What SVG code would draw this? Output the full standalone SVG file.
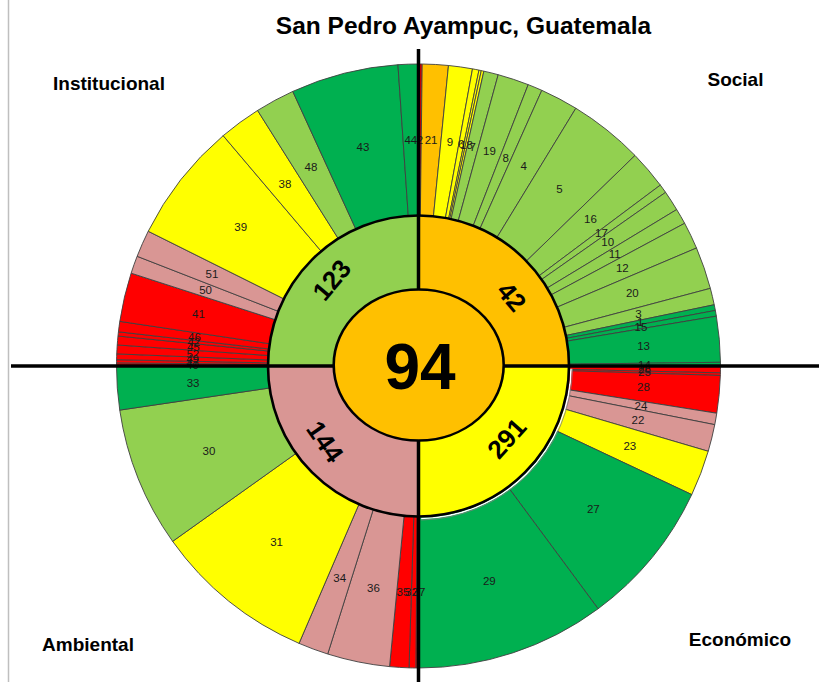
<svg xmlns="http://www.w3.org/2000/svg" width="819" height="682" viewBox="0 0 819 682">
<style>
.dg{fill:#00B050}.lg{fill:#92D050}.y{fill:#FFFF00}.o{fill:#FFC000}.r{fill:#FF0000}.p{fill:#D99694}
.sl path{stroke:#404040;stroke-width:0.9;stroke-linejoin:round}
.lb{font-family:"Liberation Sans",Arial,sans-serif;font-size:11.5px;fill:#1a1a1a;text-anchor:middle}
.q{font-family:"Liberation Sans",Arial,sans-serif;font-weight:bold;font-size:19px;fill:#000;text-anchor:middle}
.mid{font-family:"Liberation Sans",Arial,sans-serif;font-weight:bold;font-size:26px;fill:#000;text-anchor:middle}
.ax{stroke:#000;stroke-width:3.5}
</style>
<rect width="819" height="682" fill="#fff"/>
<line x1="8.5" y1="0" x2="8.5" y2="682" stroke="#bfbfbf" stroke-width="1.5"/>
<text x="463.5" y="34" font-family="Liberation Sans, Arial, sans-serif" font-weight="bold" font-size="24.5" text-anchor="middle">San Pedro Ayampuc, Guatemala</text>
<g id="outer-ring" class="sl">
<g id="social-slices">
<path class="r" d="M418.5,366L418.5,64A302,302 0 0 1 422.19,64.02Z"/>
<path class="o" d="M418.5,366L422.19,64.02A302,302 0 0 1 448.49,65.49Z"/>
<path class="y" d="M418.5,366L448.49,65.49A302,302 0 0 1 472.5,68.87Z"/>
<path class="y" d="M418.5,366L472.5,68.87A302,302 0 0 1 478.97,70.12Z"/>
<path class="y" d="M418.5,366L478.97,70.12A302,302 0 0 1 481.29,70.6Z"/>
<path class="y" d="M418.5,366L481.29,70.6A302,302 0 0 1 483.86,71.16Z"/>
<path class="lg" d="M418.5,366L483.86,71.16A302,302 0 0 1 498.19,74.7Z"/>
<path class="lg" d="M418.5,366L498.19,74.7A302,302 0 0 1 528.2,84.63Z"/>
<path class="lg" d="M418.5,366L528.2,84.63A302,302 0 0 1 541.82,90.33Z"/>
<path class="lg" d="M418.5,366L541.82,90.33A302,302 0 0 1 575.85,108.23Z"/>
<path class="lg" d="M418.5,366L575.85,108.23A302,302 0 0 1 635.01,155.45Z"/>
<path class="lg" d="M418.5,366L635.01,155.45A302,302 0 0 1 660.32,185.1Z"/>
<path class="lg" d="M418.5,366L660.32,185.1A302,302 0 0 1 665.58,192.35Z"/>
<path class="lg" d="M418.5,366L665.58,192.35A302,302 0 0 1 676.68,209.56Z"/>
<path class="lg" d="M418.5,366L676.68,209.56A302,302 0 0 1 684.65,223.29Z"/>
<path class="lg" d="M418.5,366L684.65,223.29A302,302 0 0 1 696.49,248Z"/>
<path class="lg" d="M418.5,366L696.49,248A302,302 0 0 1 710.35,288.35Z"/>
<path class="lg" d="M418.5,366L710.35,288.35A302,302 0 0 1 714.22,304.76Z"/>
<path class="dg" d="M418.5,366L714.22,304.76A302,302 0 0 1 715.35,310.45Z"/>
<path class="dg" d="M418.5,366L715.35,310.45A302,302 0 0 1 716.36,316.16Z"/>
<path class="dg" d="M418.5,366L716.36,316.16A302,302 0 0 1 720.48,362.31Z"/>
<path class="dg" d="M418.5,366L720.48,362.31A302,302 0 0 1 720.5,366Z"/>
</g>
<g id="economico-slices">
<path class="r" d="M418.5,366L720.5,366A302,302 0 0 1 720.42,372.85Z"/>
<path class="r" d="M418.5,366L720.42,372.85A302,302 0 0 1 720.35,375.49Z"/>
<path class="r" d="M418.5,366L720.35,375.49A302,302 0 0 1 716.78,413.24Z"/>
<path class="p" d="M418.5,366L716.78,413.24A302,302 0 0 1 714.75,424.66Z"/>
<path class="p" d="M418.5,366L714.75,424.66A302,302 0 0 1 708.21,451.27Z"/>
<path class="y" d="M418.5,366L708.21,451.27A302,302 0 0 1 691.76,494.59Z"/>
<path class="dg" d="M418.5,366L691.76,494.59A302,302 0 0 1 598.14,608.77Z"/>
<path class="dg" d="M418.5,366L598.14,608.77A302,302 0 0 1 418.5,668Z"/>
</g>
<g id="ambiental-slices">
<path class="r" d="M418.5,366L418.5,668A302,302 0 0 1 415.86,667.99Z"/>
<path class="r" d="M418.5,366L415.86,667.99A302,302 0 0 1 409.01,667.85Z"/>
<path class="r" d="M418.5,366L409.01,667.85A302,302 0 0 1 389.55,666.61Z"/>
<path class="p" d="M418.5,366L389.55,666.61A302,302 0 0 1 327.69,654.02Z"/>
<path class="p" d="M418.5,366L327.69,654.02A302,302 0 0 1 299.04,643.37Z"/>
<path class="y" d="M418.5,366L299.04,643.37A302,302 0 0 1 172.64,541.37Z"/>
<path class="lg" d="M418.5,366L172.64,541.37A302,302 0 0 1 119.74,410.12Z"/>
<path class="dg" d="M418.5,366L119.74,410.12A302,302 0 0 1 116.5,366Z"/>
</g>
<g id="institucional-slices">
<path class="r" d="M418.5,366L116.5,366A302,302 0 0 1 116.52,362.84Z"/>
<path class="r" d="M418.5,366L116.52,362.84A302,302 0 0 1 116.57,359.68Z"/>
<path class="r" d="M418.5,366L116.57,359.68A302,302 0 0 1 116.74,353.88Z"/>
<path class="r" d="M418.5,366L116.74,353.88A302,302 0 0 1 117.24,344.93Z"/>
<path class="r" d="M418.5,366L117.24,344.93A302,302 0 0 1 117.99,336.01Z"/>
<path class="r" d="M418.5,366L117.99,336.01A302,302 0 0 1 118.44,331.81Z"/>
<path class="r" d="M418.5,366L118.44,331.81A302,302 0 0 1 119.82,321.36Z"/>
<path class="r" d="M418.5,366L119.82,321.36A302,302 0 0 1 131.12,273.18Z"/>
<path class="p" d="M418.5,366L131.12,273.18A302,302 0 0 1 137.13,256.3Z"/>
<path class="p" d="M418.5,366L137.13,256.3A302,302 0 0 1 148.23,231.25Z"/>
<path class="y" d="M418.5,366L148.23,231.25A302,302 0 0 1 223.17,135.67Z"/>
<path class="y" d="M418.5,366L223.17,135.67A302,302 0 0 1 257.57,110.45Z"/>
<path class="lg" d="M418.5,366L257.57,110.45A302,302 0 0 1 292.78,91.41Z"/>
<path class="dg" d="M418.5,366L292.78,91.41A302,302 0 0 1 397.95,64.7Z"/>
<path class="dg" d="M418.5,366L397.95,64.7A302,302 0 0 1 418.5,64Z"/>
</g>
</g>
<g id="outer-labels" class="lb">
<text x="419.9" y="144">2</text><text x="431.1" y="144.4">21</text><text x="450" y="146.2">9</text>
<text x="461.2" y="148.1">6</text><text x="466.5" y="149.2">18</text><text x="472.8" y="150.6">7</text>
<text x="489.5" y="155.4">19</text><text x="505.7" y="161.5">8</text><text x="523.7" y="170">4</text>
<text x="559.5" y="193.4">5</text><text x="590.4" y="223.2">16</text><text x="601.5" y="237.3">17</text>
<text x="607.7" y="246.4">10</text><text x="614.8" y="258">11</text><text x="622.3" y="272.4">12</text>
<text x="632.3" y="296.6">20</text><text x="638.4" y="318">3</text><text x="640.2" y="326.3">1</text>
<text x="641" y="330.6">15</text><text x="643.6" y="349.9">13</text><text x="644.5" y="368.6">14</text>
<text x="644.5" y="372.6">26</text><text x="644.4" y="376.1">25</text><text x="643.5" y="391.3">28</text>
<text x="641" y="409.6">24</text><text x="638" y="423.9">22</text><text x="629.8" y="450.3">23</text>
<text x="593.3" y="513.3">27</text><text x="489.3" y="584.6">29</text>
<text x="419" y="596">37</text><text x="411.5" y="596">32</text><text x="403" y="595.5">35</text>
<text x="373.4" y="591.5">36</text><text x="339.7" y="581.8">34</text><text x="276.6" y="545.9">31</text>
<text x="208.9" y="454.5">30</text><text x="193.1" y="386.6">33</text>
<text x="192.5" y="368.8">40</text><text x="192.5" y="366.5">47</text><text x="192.6" y="363.1">49</text>
<text x="192.8" y="357.6">52</text><text x="193.3" y="350.9">45</text><text x="193.8" y="346">42</text>
<text x="194.4" y="340.5">46</text><text x="198.5" y="318.4">41</text><text x="205.6" y="294.2">50</text>
<text x="211.9" y="278.4">51</text><text x="240.7" y="230.6">39</text><text x="284.9" y="187.7">38</text>
<text x="311" y="171.2">48</text><text x="362.9" y="151">43</text><text x="410.8" y="144.1">44</text>
</g>
<path d="M571,368.7A152.5,152.5 0 0 1 421.2,518.5" fill="none" stroke="#fff" stroke-width="1.6"/>
<path d="M572.5,368.7A154,154 0 0 1 421.2,520" fill="none" stroke="#7f7f7f" stroke-width="0.8"/>
<g id="middle-ring">
<g id="social"><path class="o" d="M418.5,366L418.5,215.5A150.5,150.5 0 0 1 569,366Z"/></g>
<g id="economico"><path class="y" d="M418.5,366L569,366A150.5,150.5 0 0 1 418.5,516.5Z"/></g>
<g id="ambiental"><path class="p" d="M418.5,366L418.5,516.5A150.5,150.5 0 0 1 268,366Z"/></g>
<g id="institucional"><path class="lg" d="M418.5,366L268,366A150.5,150.5 0 0 1 418.5,215.5Z"/></g>
<circle cx="418.5" cy="366" r="150.5" fill="none" stroke="#000" stroke-width="2.6"/>
</g>
<g id="axes">
<line class="ax" x1="11" y1="366" x2="819" y2="366"/>
<line class="ax" x1="418.5" y1="49" x2="418.5" y2="682"/>
</g>
<g id="center">
<ellipse cx="418.7" cy="365" rx="85" ry="75.5" fill="#FFC000" stroke="#000" stroke-width="2.6"/>
<text x="420" y="389" font-family="Liberation Sans, Arial, sans-serif" font-weight="bold" font-size="64" text-anchor="middle">94</text>
</g>
<g id="middle-labels" class="mid">
<text transform="translate(331.7,280) rotate(-50)" y="9">123</text>
<text transform="translate(511.7,296.7) rotate(50)" y="9">42</text>
<text transform="translate(325,441.7) rotate(55)" y="9">144</text>
<text transform="translate(506.7,438.3) rotate(-48)" y="9">291</text>
</g>
<g id="quadrant-titles" class="q">
<text x="109" y="90">Institucional</text>
<text x="735.5" y="86">Social</text>
<text x="88" y="651">Ambiental</text>
<text x="740" y="646">Económico</text>
</g>
</svg>
